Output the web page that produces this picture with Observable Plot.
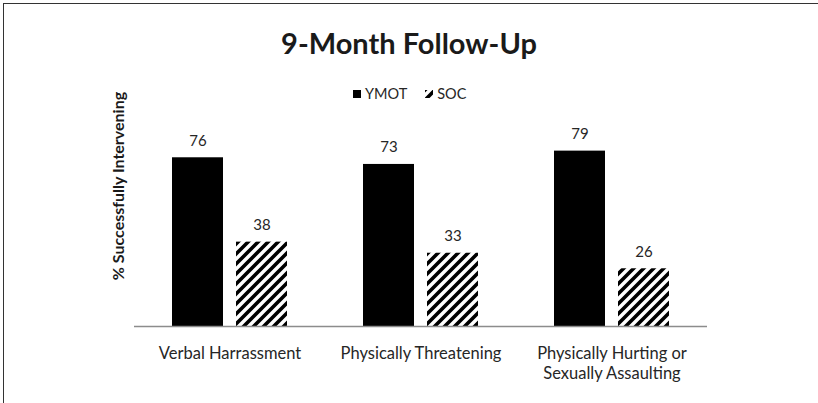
<!DOCTYPE html>
<html>
<head>
<meta charset="utf-8">
<script src="https://cdn.jsdelivr.net/npm/d3@7"></script>
<script src="https://cdn.jsdelivr.net/npm/@observablehq/plot@0.6"></script>
<style>
  html, body { margin: 0; padding: 0; background: #fff; }
  #wrap { position: relative; width: 818px; height: 403px; overflow: hidden; font-family: Lato, "Open Sans", sans-serif; color: #262626; }
  #box { position: absolute; left: 3px; top: 3px; width: 900px; height: 500px; border-left: 1.5px solid #333; border-top: 1.5px solid #333; }
  #title { position: absolute; left: 0; width: 818px; top: 28px; text-align: center; font-weight: 700; font-size: 29px; line-height: 1; color: #1a1a1a; }
  #legend { position: absolute; left: 353px; top: 85px; font-size: 14.5px; display: flex; align-items: center; gap: 0; }
  #ylabel { position: absolute; left: 117px; top: 186px; transform: translate(-50%, -50%) rotate(-90deg); white-space: nowrap; font-weight: 700; font-size: 16px; color: #1a1a1a; }
  .sw { display: inline-block; width: 8px; height: 8px; margin-right: 4px; }
  #chart { position: absolute; left: 0; top: 0; }
</style>
</head>
<body>
<svg width="0" height="0" style="position:absolute">
  <defs>
    <pattern id="hatch" patternUnits="userSpaceOnUse" width="10" height="10">
      <rect width="10" height="10" fill="#fff"/>
      <path d="M-2.5,2.5 l5,-5 M0,10 l10,-10 M7.5,12.5 l5,-5" stroke="#000" stroke-width="3.6"/>
    </pattern>
  </defs>
</svg>
<div id="wrap">
  <div id="box"></div>
  <div id="chart"></div>
  <div id="title"></div>
  <div id="legend"></div>
  <div id="ylabel"></div>
</div>
<script>
const titleText = "9-Month Follow-Up";
const yLabel = "% Successfully Intervening";
const categories = ["Verbal Harrassment", "Physically Threatening", "Physically Hurting or Sexually Assaulting"];
const tickLabels = ["Verbal Harrassment", "Physically Threatening", "Physically Hurting or\nSexually Assaulting"];
const groups = ["YMOT", "SOC"];
const ymot = [76, 73, 79];
const soc = [38, 33, 26];
const groupFills = ["#000", "url(#hatch)"];

const data = categories.flatMap((c, i) => [
  {category: c, group: groups[0], value: ymot[i]},
  {category: c, group: groups[1], value: soc[i]}
]);

document.getElementById("title").textContent = titleText;
document.getElementById("ylabel").textContent = yLabel;
const legend = document.getElementById("legend");
groups.forEach((g, i) => {
  const item = document.createElement("span");
  item.style.display = "inline-flex";
  item.style.alignItems = "center";
  item.style.marginRight = "18px";
  item.innerHTML = `<svg class="sw" viewBox="0 0 8 8"><rect width="8" height="8" fill="${groupFills[i]}"/></svg><span>${g}</span>`;
  legend.appendChild(item);
});

const labelMap = new Map(categories.map((c, i) => [c, tickLabels[i]]));

const chart = Plot.plot({
  width: 818,
  height: 403,
  marginLeft: 134,
  marginRight: 111,
  marginTop: 104,
  marginBottom: 77,
  style: {fontFamily: "Lato, 'Open Sans', sans-serif", color: "#262626", background: "transparent"},
  fx: {domain: categories, padding: 0, label: null},
  x: {domain: groups, paddingInner: 0.2, paddingOuter: 0.592, axis: null},
  y: {domain: [0, 100], axis: null},
  marks: [
    Plot.barY(data.filter(d => d.group === groups[0]), {fx: "category", x: "group", y: "value", fill: groupFills[0]}),
    Plot.barY(data.filter(d => d.group === groups[1]), {fx: "category", x: "group", y: "value", fill: groupFills[1]}),
    Plot.ruleY([0], {stroke: "#8c8c8c", strokeWidth: 1.3}),
    Plot.text(data, {fx: "category", x: "group", y: "value", text: "value", dy: -17, fontSize: 15, fill: "#262626"}),
    Plot.axisFx({anchor: "bottom", tickSize: 0, tickPadding: 18, fontSize: 16.5, lineHeight: 1.22, label: null, tickFormat: d => labelMap.get(d), fill: "#262626"})
  ]
});
document.getElementById("chart").appendChild(chart);
</script>
</body>
</html>
